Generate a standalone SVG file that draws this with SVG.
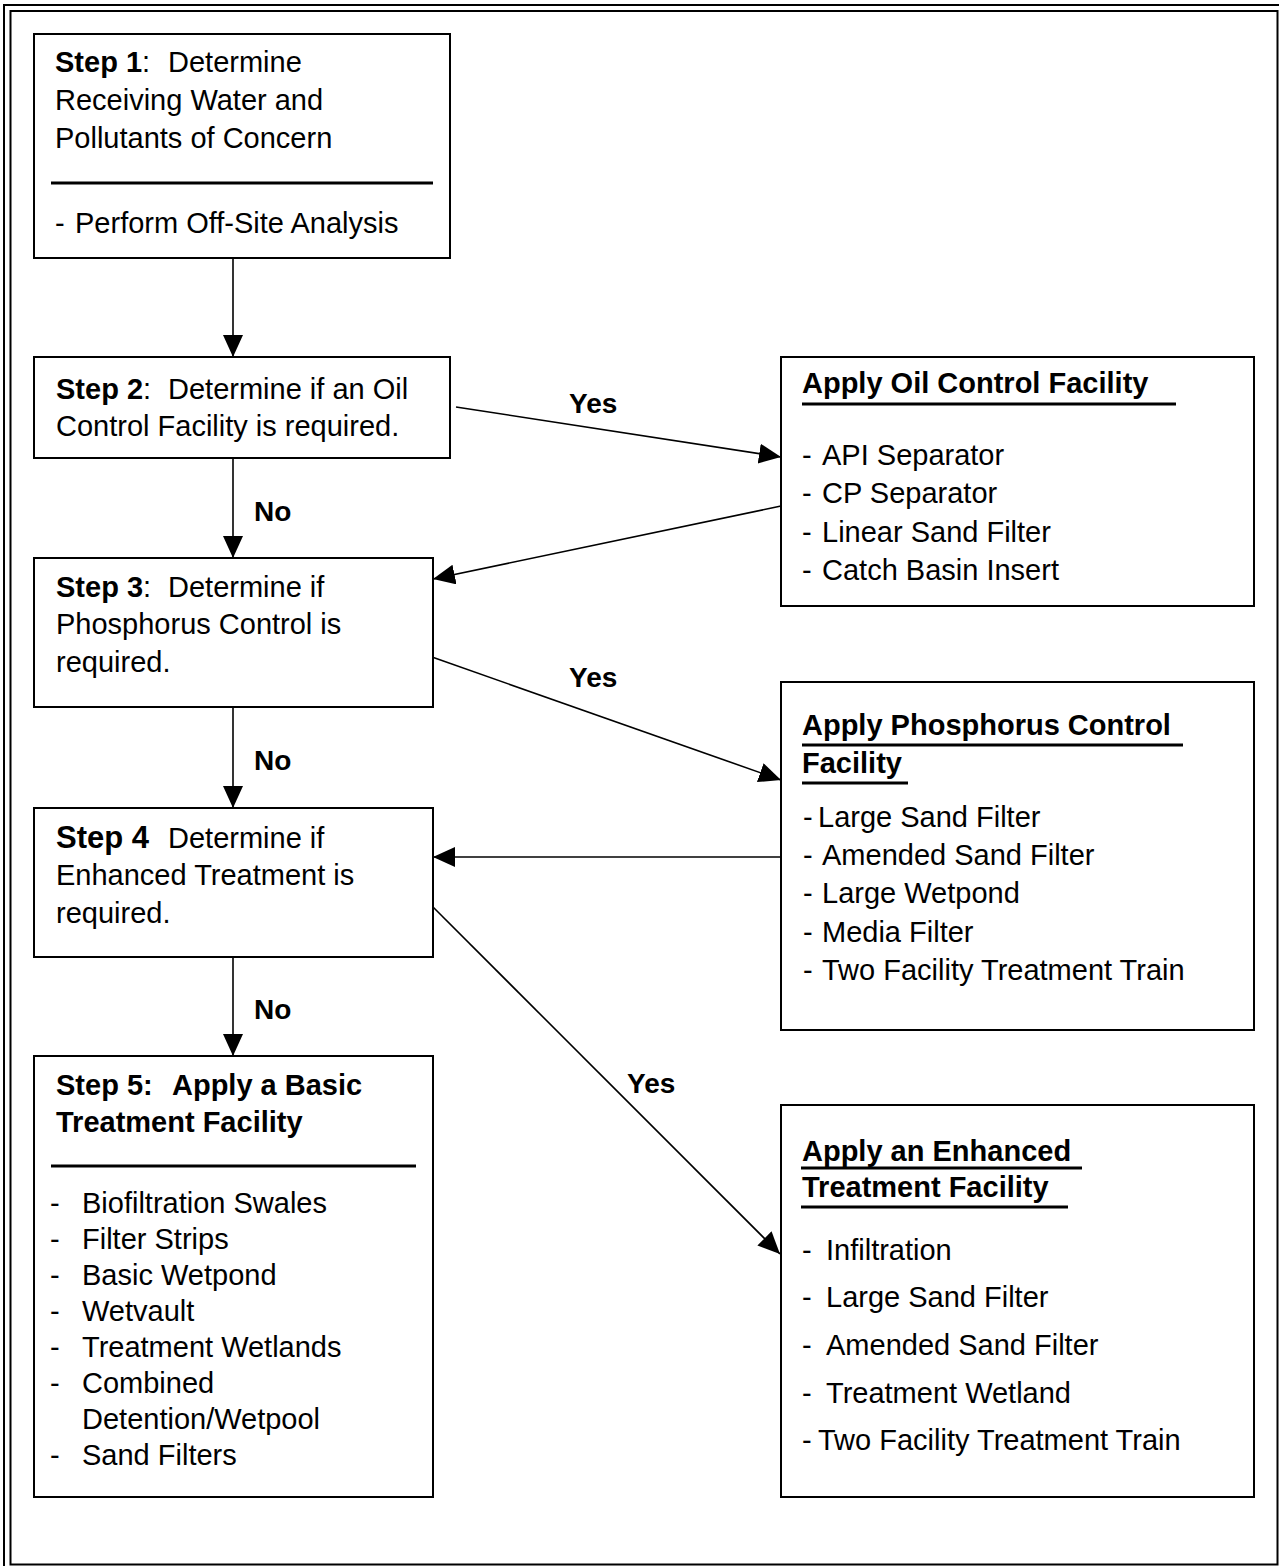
<svg xmlns="http://www.w3.org/2000/svg" width="1279" height="1566" viewBox="0 0 1279 1566">
<style>
text{font-family:"Liberation Sans",Arial,sans-serif;font-size:29px;fill:#000}
.b{font-weight:bold}
.box{fill:#fff;stroke:#000;stroke-width:2}
.rule{stroke:#000;stroke-width:3}
.con{stroke:#000;stroke-width:1.6;fill:none;marker-end:url(#ah)}
.lbl{font-weight:bold;font-size:28px}
.frame{fill:none;stroke:#000;stroke-width:2}
</style>
<defs>
<marker id="ah" markerUnits="userSpaceOnUse" markerWidth="24" markerHeight="22" refX="22" refY="10" orient="auto">
<path d="M0,0 L22,10 L0,20 z" fill="#000"/>
</marker>
</defs>
<rect width="1279" height="1566" fill="#fff"/>
<g id="frame">
<rect class="frame" x="4" y="5" width="1290" height="1580"/>
<rect class="frame" x="10.5" y="11" width="1267" height="1553.5"/>
</g>
<g id="connectors">
<line class="con" x1="233" y1="258" x2="233" y2="357"/>
<line class="con" x1="233" y1="458" x2="233" y2="558"/>
<line class="con" x1="233" y1="707" x2="233" y2="808"/>
<line class="con" x1="233" y1="957" x2="233" y2="1056"/>
<line class="con" x1="456" y1="407" x2="781" y2="457"/>
<line class="con" x1="781" y1="506" x2="433" y2="579"/>
<line class="con" x1="432" y1="657" x2="781" y2="780"/>
<line class="con" x1="781" y1="857" x2="433" y2="857"/>
<line class="con" x1="432" y1="906" x2="780" y2="1254"/>
<text class="lbl" x="254" y="521">No</text>
<text class="lbl" x="254" y="770">No</text>
<text class="lbl" x="254" y="1019">No</text>
<text class="lbl" x="569" y="413">Yes</text>
<text class="lbl" x="569" y="687">Yes</text>
<text class="lbl" x="627" y="1093">Yes</text>
</g>
<g id="step1">
<rect class="box" x="34" y="34" width="416" height="224"/>
<text x="55" y="72"><tspan class="b">Step 1</tspan>:<tspan x="168">Determine</tspan></text>
<text x="55" y="110">Receiving Water and</text>
<text x="55" y="148">Pollutants of Concern</text>
<line class="rule" x1="51" y1="183" x2="433" y2="183"/>
<text x="55" y="233">-<tspan x="75">Perform Off-Site Analysis</tspan></text>
</g>
<g id="step2">
<rect class="box" x="34" y="357" width="416" height="101"/>
<text x="56" y="399"><tspan class="b">Step 2</tspan>:<tspan x="168">Determine if an Oil</tspan></text>
<text x="56" y="436">Control Facility is required.</text>
</g>
<g id="step3">
<rect class="box" x="34" y="558" width="399" height="149"/>
<text x="56" y="597"><tspan class="b">Step 3</tspan>:<tspan x="168">Determine if</tspan></text>
<text x="56" y="634">Phosphorus Control is</text>
<text x="56" y="672">required.</text>
</g>
<g id="step4">
<rect class="box" x="34" y="808" width="399" height="149"/>
<text x="56" y="848"><tspan class="b" style="font-size:31px">Step 4</tspan><tspan x="168">Determine if</tspan></text>
<text x="56" y="885">Enhanced Treatment is</text>
<text x="56" y="923">required.</text>
</g>
<g id="step5">
<rect class="box" x="34" y="1056" width="399" height="441"/>
<text class="b" x="56" y="1095">Step 5:<tspan x="172">Apply a Basic</tspan></text>
<text class="b" x="56" y="1132">Treatment Facility</text>
<line class="rule" x1="51" y1="1166" x2="416" y2="1166"/>
<text x="50" y="1213">-<tspan x="82">Biofiltration Swales</tspan></text>
<text x="50" y="1249">-<tspan x="82">Filter Strips</tspan></text>
<text x="50" y="1285">-<tspan x="82">Basic Wetpond</tspan></text>
<text x="50" y="1321">-<tspan x="82">Wetvault</tspan></text>
<text x="50" y="1357">-<tspan x="82">Treatment Wetlands</tspan></text>
<text x="50" y="1393">-<tspan x="82">Combined</tspan></text>
<text x="82" y="1429">Detention/Wetpool</text>
<text x="50" y="1465">-<tspan x="82">Sand Filters</tspan></text>
</g>
<g id="oil">
<rect class="box" x="781" y="357" width="473" height="249"/>
<text class="b" x="802" y="393">Apply Oil Control Facility</text>
<line class="rule" x1="802" y1="404" x2="1176" y2="404"/>
<text x="802" y="465">-<tspan x="822">API Separator</tspan></text>
<text x="802" y="503">-<tspan x="822">CP Separator</tspan></text>
<text x="802" y="542">-<tspan x="822">Linear Sand Filter</tspan></text>
<text x="802" y="580">-<tspan x="822">Catch Basin Insert</tspan></text>
</g>
<g id="phosphorus">
<rect class="box" x="781" y="682" width="473" height="348"/>
<text class="b" x="802" y="735">Apply Phosphorus Control</text>
<line class="rule" x1="802" y1="745" x2="1183" y2="745"/>
<text class="b" x="802" y="773">Facility</text>
<line class="rule" x1="802" y1="783" x2="908" y2="783"/>
<text x="803" y="827">-<tspan x="818">Large Sand Filter</tspan></text>
<text x="803" y="865">-<tspan x="822">Amended Sand Filter</tspan></text>
<text x="803" y="903">-<tspan x="822">Large Wetpond</tspan></text>
<text x="803" y="942">-<tspan x="822">Media Filter</tspan></text>
<text x="803" y="980">-<tspan x="822">Two Facility Treatment Train</tspan></text>
</g>
<g id="enhanced">
<rect class="box" x="781" y="1105" width="473" height="392"/>
<text class="b" x="802" y="1161">Apply an Enhanced</text>
<line class="rule" x1="801" y1="1168" x2="1082" y2="1168"/>
<text class="b" x="802" y="1197">Treatment Facility</text>
<line class="rule" x1="801" y1="1207" x2="1068" y2="1207"/>
<text x="802" y="1260">-<tspan x="826">Infiltration</tspan></text>
<text x="802" y="1307">-<tspan x="826">Large Sand Filter</tspan></text>
<text x="802" y="1355">-<tspan x="826">Amended Sand Filter</tspan></text>
<text x="802" y="1403">-<tspan x="826">Treatment Wetland</tspan></text>
<text x="802" y="1450">-<tspan x="818">Two Facility Treatment Train</tspan></text>
</g>
</svg>
